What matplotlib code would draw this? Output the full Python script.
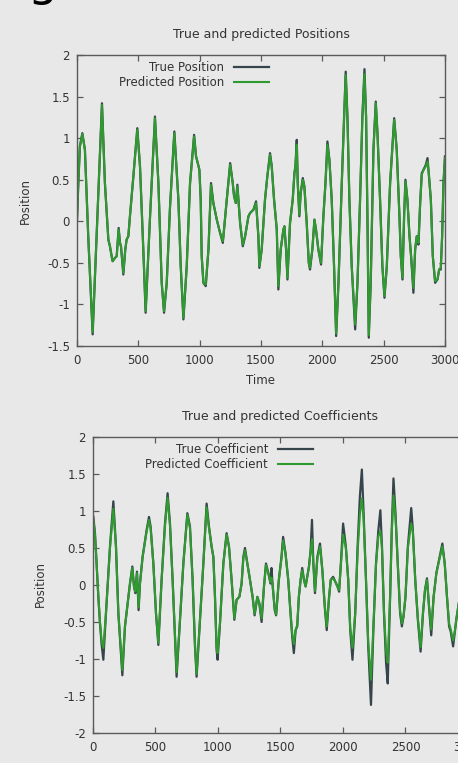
import matplotlib.pyplot as plt

plt.rcParams["font.family"] = ["DejaVu Sans"]
plt.rcParams["axes.unicode_minus"] = False

# top chart: positions
pos_x = [0, 11, 24, 44, 65, 92, 128, 204, 228, 256, 269, 283, 291, 310, 324, 340, 351, 359, 378, 394,
         405, 419, 432, 460, 492, 514, 541, 560, 596, 636, 664, 691, 710, 732, 759, 794, 827, 846, 868, 895,
         922, 955, 971, 985, 998, 1009, 1017, 1031, 1050, 1072, 1093, 1112, 1140, 1167, 1189, 1194, 1221, 1249, 1270, 1281,
         1295, 1308, 1330, 1352, 1371, 1398, 1412, 1425, 1439, 1460, 1479, 1487, 1506, 1533, 1552, 1574, 1588, 1607, 1629, 1642,
         1661, 1683, 1691, 1705, 1716, 1737, 1759, 1773, 1781, 1792, 1800, 1813, 1824, 1841, 1854, 1873, 1890, 1900, 1919, 1936,
         1949, 1968, 1990, 2009, 2026, 2042, 2058, 2077, 2096, 2113, 2132, 2159, 2178, 2191, 2205, 2221, 2240, 2268, 2287, 2308,
         2327, 2344, 2357, 2368, 2379, 2395, 2417, 2436, 2450, 2471, 2490, 2507, 2526, 2553, 2586, 2607, 2629, 2640, 2654, 2667,
         2678, 2694, 2711, 2724, 2743, 2757, 2770, 2784, 2798, 2811, 2825, 2844, 2858, 2868, 2885, 2901, 2920, 2939, 2953, 2966,
         2977, 2988, 3000]
pos_true = [0.0, 0.45, 0.9, 1.06, 0.86, -0.18, -1.36, 1.42, 0.46, -0.22, -0.30, -0.42, -0.48, -0.44, -0.42, -0.08, -0.26, -0.30, -0.64, -0.34,
            -0.22, -0.18, 0.06, 0.54, 1.12, 0.66, -0.34, -1.10, 0.06, 1.26, 0.46, -0.74, -1.10, -0.74, 0.18, 1.08, 0.26, -0.54, -1.18, -0.54,
            0.46, 1.04, 0.78, 0.70, 0.62, 0.26, -0.42, -0.74, -0.78, -0.34, 0.46, 0.22, 0.02, -0.14, -0.26, -0.18, 0.26, 0.70, 0.46, 0.30,
            0.22, 0.44, -0.02, -0.30, -0.18, 0.06, 0.10, 0.12, 0.14, 0.24, -0.18, -0.56, -0.34, 0.26, 0.54, 0.82, 0.66, 0.26, -0.10, -0.82,
            -0.34, -0.10, -0.06, -0.34, -0.70, -0.02, 0.26, 0.58, 0.66, 0.98, 0.46, 0.06, 0.34, 0.52, 0.42, -0.02, -0.50, -0.58, -0.34, 0.02,
            -0.10, -0.34, -0.52, 0.06, 0.46, 0.96, 0.74, 0.26, -0.54, -1.38, -0.74, 0.46, 1.26, 1.80, 1.26, 0.26, -0.54, -1.30, -0.74, 0.26,
            1.26, 1.83, 1.26, 0.06, -1.40, -0.74, 0.86, 1.44, 1.06, 0.26, -0.54, -0.92, -0.54, 0.46, 1.24, 0.86, 0.06, -0.42, -0.70, 0.06,
            0.50, 0.26, -0.18, -0.42, -0.86, -0.34, -0.18, -0.28, 0.22, 0.58, 0.62, 0.68, 0.76, 0.58, 0.26, -0.42, -0.74, -0.70, -0.58, -0.58,
            -0.18, 0.46, 0.78]
pos_pred = [0.0, 0.45, 0.9, 1.05, 0.86, -0.18, -1.33, 1.40, 0.46, -0.22, -0.30, -0.42, -0.48, -0.44, -0.42, -0.10, -0.26, -0.30, -0.62, -0.34,
            -0.22, -0.18, 0.06, 0.54, 1.10, 0.66, -0.34, -1.08, 0.06, 1.24, 0.46, -0.74, -1.08, -0.74, 0.18, 1.06, 0.26, -0.54, -1.16, -0.54,
            0.46, 1.02, 0.78, 0.70, 0.62, 0.26, -0.42, -0.74, -0.76, -0.34, 0.44, 0.22, 0.02, -0.14, -0.24, -0.18, 0.26, 0.68, 0.46, 0.30,
            0.22, 0.42, -0.02, -0.28, -0.18, 0.06, 0.10, 0.12, 0.14, 0.22, -0.18, -0.54, -0.34, 0.26, 0.54, 0.80, 0.66, 0.26, -0.10, -0.78,
            -0.34, -0.10, -0.06, -0.34, -0.68, -0.02, 0.26, 0.58, 0.66, 0.92, 0.46, 0.08, 0.34, 0.50, 0.42, -0.02, -0.50, -0.56, -0.34, 0.02,
            -0.10, -0.34, -0.50, 0.06, 0.46, 0.92, 0.74, 0.26, -0.54, -1.35, -0.74, 0.46, 1.26, 1.76, 1.26, 0.26, -0.54, -1.24, -0.74, 0.26,
            1.26, 1.77, 1.26, 0.06, -1.37, -0.74, 0.86, 1.42, 1.06, 0.26, -0.54, -0.90, -0.54, 0.46, 1.22, 0.86, 0.06, -0.42, -0.68, 0.06,
            0.48, 0.26, -0.18, -0.42, -0.80, -0.34, -0.18, -0.26, 0.22, 0.56, 0.62, 0.66, 0.72, 0.58, 0.26, -0.42, -0.72, -0.70, -0.58, -0.56,
            -0.18, 0.46, 0.76]

# bottom chart: coefficients
coef_x = [3, 16, 29, 43, 56, 69, 83, 104, 136, 163, 184, 203, 235, 256, 283, 296, 315, 328, 339, 352,
          365, 376, 397, 429, 448, 461, 483, 504, 523, 549, 576, 597, 616, 637, 656, 669, 691, 723, 755, 776,
          797, 816, 829, 851, 883, 909, 928, 949, 963, 976, 989, 997, 1016, 1043, 1069, 1088, 1109, 1131, 1149, 1171,
          1189, 1203, 1216, 1235, 1256, 1277, 1293, 1315, 1331, 1349, 1368, 1384, 1403, 1420, 1428, 1438, 1454, 1465, 1487, 1508,
          1521, 1540, 1562, 1580, 1594, 1607, 1621, 1634, 1647, 1661, 1674, 1688, 1701, 1714, 1728, 1741, 1752, 1763, 1776, 1795,
          1816, 1835, 1854, 1870, 1889, 1902, 1921, 1937, 1956, 1969, 1983, 2001, 2023, 2042, 2058, 2076, 2098, 2117, 2135, 2151,
          2165, 2184, 2202, 2224, 2243, 2264, 2283, 2299, 2312, 2328, 2345, 2358, 2377, 2390, 2404, 2420, 2438, 2457, 2471, 2484,
          2500, 2519, 2546, 2559, 2578, 2599, 2621, 2640, 2656, 2672, 2688, 2706, 2725, 2747, 2773, 2795, 2814, 2832, 2849, 2862,
          2881, 2894, 2908, 2918, 2940]
coef_true = [0.92, 0.70, 0.29, -0.16, -0.52, -0.80, -1.01, -0.38, 0.52, 1.13, 0.52, -0.38, -1.22, -0.56, -0.16, 0.02, 0.25, -0.02, -0.11, 0.18,
             -0.34, 0.02, 0.38, 0.74, 0.92, 0.79, 0.29, -0.38, -0.81, 0.07, 0.83, 1.24, 0.83, 0.07, -0.70, -1.24, -0.61, 0.29, 0.97, 0.79,
             0.07, -0.83, -1.24, -0.61, 0.29, 1.10, 0.79, 0.52, 0.38, -0.16, -0.88, -1.01, -0.52, 0.29, 0.70, 0.52, 0.07, -0.47, -0.20, -0.16,
             0.02, 0.38, 0.50, 0.29, 0.07, -0.16, -0.41, -0.16, -0.25, -0.50, -0.02, 0.29, 0.16, 0.02, 0.23, -0.02, -0.34, -0.41, 0.07, 0.38,
             0.65, 0.43, 0.07, -0.38, -0.70, -0.92, -0.61, -0.56, -0.16, 0.07, 0.23, 0.07, -0.02, 0.11, 0.25, 0.47, 0.88, 0.29, -0.11, 0.38,
             0.56, 0.20, -0.29, -0.61, -0.16, 0.07, 0.11, 0.05, -0.02, -0.09, 0.29, 0.83, 0.52, 0.07, -0.61, -1.01, -0.38, 0.52, 1.19, 1.56,
             0.97, 0.07, -0.83, -1.62, -0.61, 0.29, 0.74, 1.01, 0.52, -0.38, -1.06, -1.33, -0.16, 0.74, 1.44, 0.97, 0.29, -0.38, -0.56, -0.43,
             -0.16, 0.52, 1.04, 0.74, 0.07, -0.47, -0.90, -0.38, -0.07, 0.09, -0.29, -0.68, -0.16, 0.16, 0.38, 0.56, 0.29, -0.16, -0.56, -0.63,
             -0.83, -0.65, -0.45, -0.34, -0.10]
coef_pred = [0.88, 0.68, 0.29, -0.16, -0.50, -0.76, -0.85, -0.38, 0.50, 1.03, 0.52, -0.38, -1.15, -0.56, -0.16, 0.02, 0.23, -0.02, -0.09, 0.16,
             -0.30, 0.02, 0.38, 0.72, 0.88, 0.77, 0.29, -0.38, -0.78, 0.07, 0.80, 1.18, 0.81, 0.07, -0.68, -1.18, -0.61, 0.29, 0.95, 0.77,
             0.07, -0.80, -1.20, -0.61, 0.29, 1.05, 0.77, 0.52, 0.38, -0.16, -0.84, -0.92, -0.52, 0.29, 0.68, 0.52, 0.07, -0.45, -0.20, -0.16,
             0.02, 0.36, 0.47, 0.29, 0.07, -0.16, -0.39, -0.16, -0.25, -0.45, -0.02, 0.27, 0.16, 0.04, 0.10, -0.02, -0.32, -0.40, 0.07, 0.36,
             0.60, 0.43, 0.07, -0.36, -0.66, -0.80, -0.61, -0.54, -0.16, 0.07, 0.20, 0.07, -0.02, 0.11, 0.25, 0.45, 0.62, 0.29, -0.08, 0.36,
             0.52, 0.20, -0.27, -0.56, -0.16, 0.07, 0.09, 0.05, -0.02, -0.07, 0.27, 0.68, 0.50, 0.07, -0.58, -0.85, -0.38, 0.45, 0.95, 1.17,
             0.90, 0.07, -0.78, -1.28, -0.58, 0.27, 0.66, 0.73, 0.50, -0.36, -0.90, -1.05, -0.16, 0.70, 1.21, 0.93, 0.29, -0.36, -0.52, -0.43,
             -0.16, 0.50, 0.83, 0.72, 0.07, -0.45, -0.84, -0.38, -0.07, 0.07, -0.27, -0.60, -0.16, 0.16, 0.36, 0.52, 0.29, -0.16, -0.52, -0.60,
             -0.75, -0.63, -0.45, -0.34, -0.10]

x_ticks = [0, 500, 1000, 1500, 2000, 2500, 3000]
pos_yticks = [-1.5, -1, -0.5, 0, 0.5, 1, 1.5, 2]
pos_ylabels = ["-1.5", "-1", "-0.5", "0", "0.5", "1", "1.5", "2"]
coef_yticks = [-2, -1.5, -1, -0.5, 0, 0.5, 1, 1.5, 2]
coef_ylabels = ["-2", "-1.5", "-1", "-0.5", "0", "0.5", "1", "1.5", "2"]

bg = "#e8e8e8"
true_col = "#36444c"
pred_col = "#2f9a2f"
frame_col = "#5a5a5a"
text_col = "#333333"
fs = 8.5
title_fs = 9

fig = plt.figure(figsize=(4.58, 7.63), dpi=100, facecolor=bg)

# clipped heading letter at the very top of the screenshot
fig.text(42 / 458, 1 + 5 / 763, "g", fontsize=34, color="black", ha="center", va="baseline")

ax1 = fig.add_axes([0.168, 0.5465, 0.8035, 0.3814])
ax2 = fig.add_axes([0.203, 0.0393, 0.8188, 0.388])


def style(ax, title, yticks, ylabels, ylim, label_x, label_y):
    ax.set_facecolor(bg)
    for s in ax.spines.values():
        s.set_color(frame_col)
        s.set_linewidth(1.0)
    ax.set_xlim(0, 3000)
    ax.set_ylim(*ylim)
    ax.set_xticks(x_ticks, [str(t) for t in x_ticks])
    ax.set_yticks(yticks, ylabels)
    ax.tick_params(direction="in", top=True, right=True, length=4, width=0.9,
                   color=frame_col, labelcolor=text_col, labelsize=fs)
    ax.tick_params(axis="x", pad=6)
    ax.tick_params(axis="y", pad=5)
    ax.set_title(title, fontsize=title_fs, color=text_col, pad=12)
    ax.set_ylabel("Position", fontsize=fs, color=text_col)
    ax.yaxis.set_label_coords(label_x, label_y)


ax1.plot(pos_x, pos_true, color=true_col, linewidth=1.6, label="True Position")
ax1.plot(pos_x, pos_pred, color=pred_col, linewidth=1.5, label="Predicted Position")
style(ax1, "True and predicted Positions", pos_yticks, pos_ylabels, (-1.5, 2), -0.122, 0.5)
ax1.set_xlabel("Time", fontsize=fs, color=text_col, labelpad=5)
ax1.legend(loc="upper right", bbox_to_anchor=(0.522, 0.978), frameon=False, markerfirst=False,
           fontsize=fs, labelcolor=text_col, handlelength=3.0, handletextpad=0.8,
           labelspacing=0.15, borderpad=0, borderaxespad=0)

ax2.plot(coef_x, coef_true, color=true_col, linewidth=1.6, label="True Coefficient")
ax2.plot(coef_x, coef_pred, color=pred_col, linewidth=1.5, label="Predicted Coefficient")
style(ax2, "True and predicted Coefficients", coef_yticks, coef_ylabels, (-2, 2), -0.123, 0.503)
ax2.legend(loc="upper right", bbox_to_anchor=(0.587, 0.978), frameon=False, markerfirst=False,
           fontsize=fs, labelcolor=text_col, handlelength=3.0, handletextpad=0.8,
           labelspacing=0.15, borderpad=0, borderaxespad=0)

plt.savefig("out.png", dpi=100, facecolor=bg)
